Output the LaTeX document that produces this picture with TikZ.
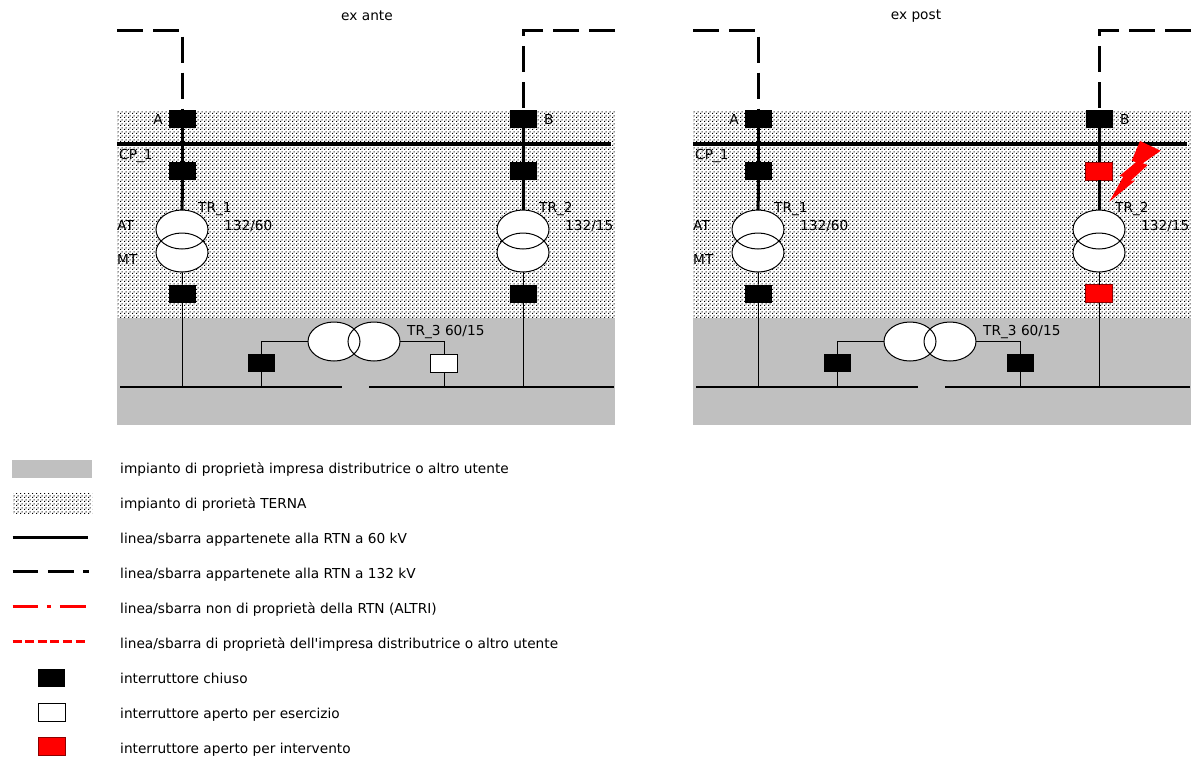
\documentclass[tikz,border=0pt]{standalone}
\usepackage{fontspec}
\setmainfont{DejaVu Sans}[Ligatures=TeXOff]
\usetikzlibrary{shapes.geometric,patterns}
\definecolor{distgray}{HTML}{C0C0C0}
\pgfdeclarepatternformonly{ternadots}{\pgfpointorigin}{\pgfqpoint{4pt}{4pt}}{\pgfqpoint{4pt}{4pt}}{%
  \pgfpathrectangle{\pgfpointorigin}{\pgfqpoint{1.25pt}{1.25pt}}%
  \pgfpathrectangle{\pgfqpoint{2pt}{2pt}}{\pgfqpoint{1.25pt}{1.25pt}}%
  \pgfusepath{fill}}
\tikzset{
  lbl/.style={font=\fontsize{13.7}{16}\selectfont, inner sep=0pt},
  brk/.style={rectangle, minimum width=27pt, minimum height=18pt, inner sep=0pt, outer sep=0pt},
  closedbrk/.style={brk, fill=black},
  openbrk/.style={brk, fill=white, draw=black, line width=1pt},
  redbrk/.style={brk, fill=red, draw=red!55!black, line width=0.6pt},
  wind/.style={ellipse, minimum width=52pt, minimum height=39pt, inner sep=0pt, outer sep=0pt, fill=white},
  hv/.style={line width=3pt},
  hvdash/.style={line width=3pt, dash pattern=on 26pt off 10pt},
  mv/.style={line width=1pt},
  busmv/.style={line width=1.6pt},
  busht/.style={line width=3.5pt},
  winding/.style={line width=1pt},
  ternafill/.style={pattern=ternadots, pattern color=black},
  distfill/.style={fill=distgray},
}
\newcommand{\elpanel}[6]{%
\begin{scope}[xshift=#2pt]
  \fill[distfill] (117,318) rectangle (615,425);
  \fill[ternafill] (117,110) rectangle (615,318);
  \node[lbl] (#1title) at (#3,16) {#4};
  % breakers and windings
  \node[closedbrk] (#1A1) at (182.5,119) {};
  \node[closedbrk] (#1A2) at (182.5,171) {};
  \node[wind] (#1T1a) at (182,229.5) {};
  \node[wind] (#1T1b) at (182,252.5) {};
  \node[closedbrk] (#1A3) at (182.5,293.5) {};
  \node[closedbrk] (#1B1) at (523,119) {};
  \node[#5] (#1B2) at (523,171) {};
  \node[wind] (#1T2a) at (523,229.5) {};
  \node[wind] (#1T2b) at (523,252.5) {};
  \node[#5] (#1B3) at (523,293.5) {};
  \node[wind] (#1T3a) at (334,341.5) {};
  \node[wind] (#1T3b) at (374,341.5) {};
  \node[closedbrk] (#1L3) at (261.5,363) {};
  \node[#6] (#1R3) at (444,363) {};
  % labels
  \node[lbl, anchor=mid east] (#1lA) at (163,122) {A};
  \node[lbl, anchor=mid west] (#1lB) at (544,122) {B};
  \node[lbl, anchor=mid west] (#1lCP) at (119,157) {CP\_1};
  \node[lbl, anchor=mid west] (#1lT1) at (198,210) {TR\_1};
  \node[lbl, anchor=mid west] (#1lV1) at (224,228) {132/60};
  \node[lbl, anchor=mid west] (#1lAT) at (117,228) {AT};
  \node[lbl, anchor=mid west] (#1lMT) at (117,262) {MT};
  \node[lbl, anchor=mid west] (#1lT2) at (539,210) {TR\_2};
  \node[lbl, anchor=mid west] (#1lV2) at (565,228) {132/15};
  \node[lbl, anchor=mid west] (#1lT3) at (407,333) {TR\_3 60/15};
  % coordinates
  \coordinate (#1Ak) at (182.5,30);
  \coordinate (#1Ae) at (117,30);
  \coordinate (#1Bk) at (523,30);
  \coordinate (#1Be) at (615,30);
  \coordinate (#1CPl) at (117,144);
  \coordinate (#1CPr) at (611,144);
  \coordinate (#1Ml1) at (120,387);
  \coordinate (#1Ml2) at (342,387);
  \coordinate (#1Mr1) at (369,387);
  \coordinate (#1Mr2) at (614,387);
  % connectors
  \draw[hvdash] (#1Ae) -- (#1Ak) -- (#1A1);
  \draw[hvdash] (#1Be) -- (#1Bk) -- (#1B1);
  \draw[busht] (#1CPl) -- (#1CPr);
  \draw[hv] (#1A1) -- (#1A2);
  \draw[hv] (#1A2) -- (#1T1a);
  \draw[hv] (#1B1) -- (#1B2);
  \draw[hv] (#1B2) -- (#1T2a);
  \draw[mv] (#1T1b) -- (#1A3);
  \draw[mv] (#1A3) -- (#1A3 |- #1Ml1);
  \draw[mv] (#1T2b) -- (#1B3);
  \draw[mv] (#1B3) -- (#1B3 |- #1Ml1);
  \draw[busmv] (#1Ml1) -- (#1Ml2);
  \draw[busmv] (#1Mr1) -- (#1Mr2);
  \draw[mv] (#1T3a.west) -| (#1L3);
  \draw[mv] (#1L3) -- (#1L3 |- #1Ml1);
  \draw[mv] (#1T3b.east) -| (#1R3);
  \draw[mv] (#1R3) -- (#1R3 |- #1Ml1);
  % winding outlines
  \draw[winding] (#1T1a.center) ellipse [x radius=26, y radius=19.5];
  \draw[winding] (#1T1b.center) ellipse [x radius=26, y radius=19.5];
  \draw[winding] (#1T2a.center) ellipse [x radius=26, y radius=19.5];
  \draw[winding] (#1T2b.center) ellipse [x radius=26, y radius=19.5];
  \draw[winding] (#1T3a.center) ellipse [x radius=26, y radius=19.5];
  \draw[winding] (#1T3b.center) ellipse [x radius=26, y radius=19.5];
\end{scope}}

\begin{document}
\begin{tikzpicture}[x=1pt,y=-1pt]
\useasboundingbox (0,0) rectangle (1192,758);

\elpanel{a}{0}{367}{ex ante}{closedbrk}{openbrk}
\elpanel{p}{576}{340}{ex post}{redbrk}{closedbrk}

% fault symbol
\fill[red] (1140,141) -- (1160.7,150.7) -- (1142.7,163.3) -- (1147.7,165)
  -- (1130.7,180.7) -- (1135,180.7) -- (1109.3,201.7) -- (1123.3,176.7)
  -- (1119.3,176) -- (1136,162.3) -- (1131.7,160.7) -- cycle;

% legend
\fill[distfill] (12,460) rectangle (92,478);
\fill[ternafill] (13,493) rectangle (92,513);
\coordinate (l3a) at (12.5,537); \coordinate (l3b) at (88,537);
\coordinate (l4a) at (12.5,571); \coordinate (l4b) at (89,571);
\coordinate (l5a) at (12.5,606); \coordinate (l5b) at (86,606);
\coordinate (l6a) at (12.5,641); \coordinate (l6b) at (86,641);
\draw[line width=3pt] (l3a) -- (l3b);
\draw[line width=3pt, dash pattern=on 25.7pt off 9.6pt] (l4a) -- (l4b);
\draw[red, line width=3pt, dash pattern=on 25.7pt off 8.7pt on 4pt off 9pt] (l5a) -- (l5b);
\draw[red, line width=3pt, dash pattern=on 9pt off 3.6pt] (l6a) -- (l6b);
\node[closedbrk] (lbk1) at (51.8,677.5) {};
\node[openbrk] (lbk2) at (51.8,712) {};
\node[redbrk] (lbk3) at (51.8,746.5) {};
\node[lbl, anchor=mid west] (lt1) at (120,471) {impianto di proprietà impresa distributrice o altro utente};
\node[lbl, anchor=mid west] (lt2) at (120,506) {impianto di prorietà TERNA};
\node[lbl, anchor=mid west] (lt3) at (120,541) {linea/sbarra appartenete alla RTN a 60 kV};
\node[lbl, anchor=mid west] (lt4) at (120,576) {linea/sbarra appartenete alla RTN a 132 kV};
\node[lbl, anchor=mid west] (lt5) at (120,611) {linea/sbarra non di proprietà della RTN (ALTRI)};
\node[lbl, anchor=mid west] (lt6) at (120,646) {linea/sbarra di proprietà dell'impresa distributrice o altro utente};
\node[lbl, anchor=mid west] (lt7) at (120,681) {interruttore chiuso};
\node[lbl, anchor=mid west] (lt8) at (120,716) {interruttore aperto per esercizio};
\node[lbl, anchor=mid west] (lt9) at (120,751) {interruttore aperto per intervento};
\end{tikzpicture}
\end{document}
